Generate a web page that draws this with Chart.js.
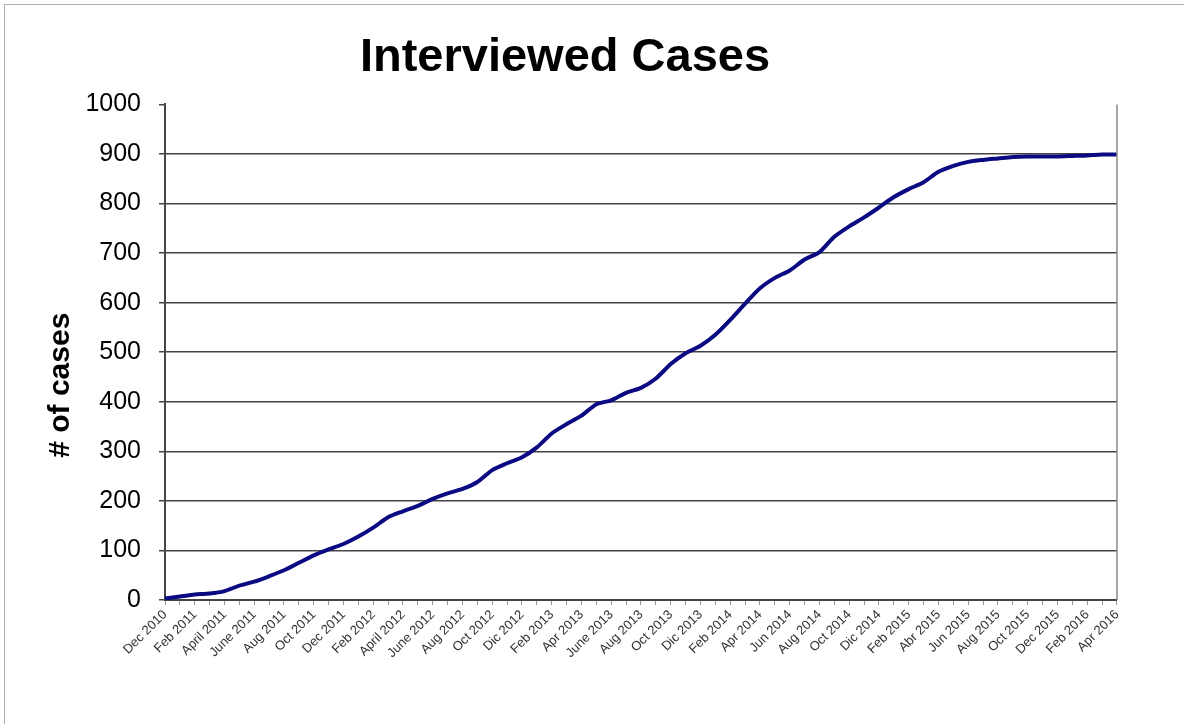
<!DOCTYPE html>
<html>
<head>
<meta charset="utf-8">
<script src="https://cdn.jsdelivr.net/npm/chart.js@4/dist/chart.umd.min.js"></script>
<style>
  html, body { margin: 0; padding: 0; background: #fff; }
  body { width: 1184px; height: 724px; position: relative; overflow: hidden; }
  #frame { position: absolute; left: 4px; top: 4px; width: 1190px; height: 730px; border: 1px solid #b0b0b0; box-sizing: border-box; }
  #wrap { position: absolute; left: 0; top: 0; width: 1130px; height: 724px; }
</style>
</head>
<body>
<div id="frame"></div>
<div id="wrap"><canvas id="c" width="1130" height="724"></canvas></div>
<script>
// Tick labels shown every other month (Dec 2010 .. Apr 2016)
const tickLabels = [
  "Dec 2010", "Feb 2011", "April 2011", "June 2011", "Aug 2011", "Oct 2011",
  "Dec 2011", "Feb 2012", "April 2012", "June 2012", "Aug 2012", "Oct 2012",
  "Dic 2012", "Feb 2013", "Apr 2013", "June 2013", "Aug 2013", "Oct 2013",
  "Dic 2013", "Feb 2014", "Apr 2014", "Jun 2014", "Aug 2014", "Oct 2014",
  "Dic 2014", "Feb 2015", "Abr 2015", "Jun 2015", "Aug 2015", "Oct 2015",
  "Dec 2015", "Feb 2016", "Apr 2016"
];

// Cumulative interviewed cases, one value per month
const interviewedCases = [
  3, 7, 11, 13, 18, 29, 37, 48, 60, 75,
  90, 102, 113, 128, 146, 167, 179, 190, 204, 215,
  224, 238, 262, 276, 288, 308, 336, 355, 372, 395,
  403, 418, 428, 447, 476, 498, 513, 535, 565, 598,
  629, 650, 665, 687, 702, 733, 754, 772, 792, 813,
  829, 843, 864, 876, 884, 888, 891, 894, 895, 895,
  895, 896, 897, 899, 899
];

const yTicks = [0, 100, 200, 300, 400, 500, 600, 700, 800, 900, 1000];
const yAxisTitle = "# of cases";

// Monthly categories: labelled months alternate with unlabelled ones
const categories = interviewedCases.map((v, i) => (i % 2 === 0 ? tickLabels[i / 2] : ""));

const FONT = "Liberation Sans, Arial, sans-serif";

const framePlugin = {
  id: "framePlugin",
  afterDatasetsDraw(chart) {
    const { ctx, chartArea } = chart;
    ctx.save();
    ctx.strokeStyle = "#888";
    ctx.lineWidth = 1.5;
    ctx.beginPath();
    ctx.moveTo(chartArea.right, chartArea.top);
    ctx.lineTo(chartArea.right, chartArea.bottom);
    ctx.stroke();
    // y axis title
    ctx.translate(chartArea.left - 104, (chartArea.top + chartArea.bottom) / 2 + 33);
    ctx.rotate(-Math.PI / 2);
    ctx.fillStyle = "#000";
    ctx.font = "bold 30px " + FONT;
    ctx.textAlign = "center";
    ctx.textBaseline = "middle";
    ctx.fillText(yAxisTitle, 0, 0);
    ctx.restore();
  }
};

new Chart(document.getElementById("c"), {
  type: "line",
  data: {
    labels: categories,
    datasets: [{
      label: "Interviewed Cases",
      data: interviewedCases,
      borderColor: "#0a0a82",
      borderWidth: 4,
      pointRadius: 0,
      tension: 0.25,
      fill: false
    }]
  },
  options: {
    responsive: false,
    animation: false,
    layout: { padding: { left: 9, right: 9, top: 0, bottom: 0 } },
    plugins: {
      legend: { display: false },
      tooltip: { enabled: false },
      title: {
        display: true,
        text: "Interviewed Cases",
        color: "#000",
        font: { family: FONT, size: 47, weight: "bold" },
        padding: { top: 30, bottom: 18 }
      }
    },
    scales: {
      x: {
        offset: false,
        afterFit(scale) { scale.height = 124; },
        grid: { display: true, drawOnChartArea: false, drawTicks: true, tickLength: 5, color: "#999" },
        border: { display: true, color: "#444", width: 2 },
        ticks: {
          autoSkip: false,
          minRotation: 45,
          maxRotation: 45,
          color: "#333",
          padding: 2,
          font: { family: FONT, size: 13 }
        }
      },
      y: {
        min: 0,
        max: 1000,
        afterFit(scale) { scale.width = 156; },
        afterBuildTicks(scale) { scale.ticks = yTicks.map(v => ({ value: v })); },
        grid: {
          color: (ctx) => (ctx.tick && ctx.tick.value === 1000 ? "rgba(0,0,0,0)" : "#444"),
          lineWidth: 1.5,
          drawTicks: true,
          tickLength: 6,
          tickColor: "#444"
        },
        border: { display: true, color: "#444", width: 2 },
        ticks: {
          color: "#000",
          padding: 18,
          callback: (v) => String(v),
          font: { family: FONT, size: 25 }
        }
      }
    }
  },
  plugins: [framePlugin]
});
</script>
</body>
</html>
